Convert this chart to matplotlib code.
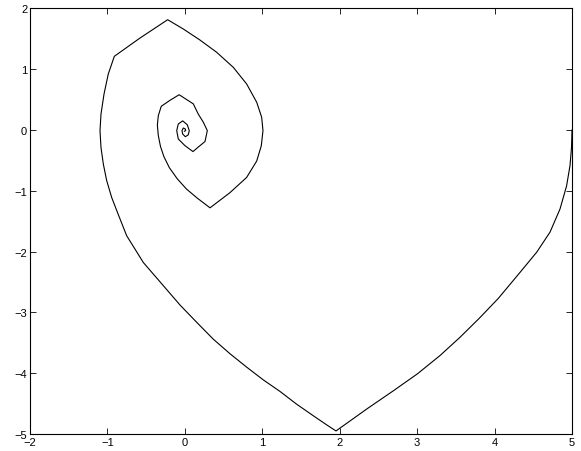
import matplotlib
matplotlib.use("Agg")
import matplotlib.pyplot as plt

plt.rcParams['font.family'] = ['Liberation Sans', 'DejaVu Sans']

# Trajectory, in drawing order (clockwise spiral)
x_vals = [5.0, 4.997, 4.993, 4.974, 4.93, 4.845, 4.716, 4.544, 4.33, 4.048, 3.80,
          3.553, 3.295, 3.004, 2.692, 2.348, 1.952,
          1.832, 1.659, 1.444, 1.229, 1.013, 0.798, 0.583, 0.367, 0.153, -0.063,
          -0.278, -0.536, -0.751, -0.86, -0.945, -1.01, -1.053, -1.083, -1.096,
          -1.083, -1.044, -0.989, -0.911,
          -0.579, -0.222,
          -0.02, 0.195, 0.411, 0.626, 0.798, 0.928, 0.992, 1.009, 0.987, 0.928,
          0.798, 0.583, 0.325,
          0.16, 0.02, -0.10, -0.20, -0.27, -0.315, -0.343, -0.355, -0.343, -0.305,
          -0.19, -0.074,
          0.109, 0.174, 0.239, 0.29, 0.26, 0.174, 0.105,
          0.002, -0.085, -0.105, -0.085, -0.028, 0.031, 0.057, 0.044, 0.006,
          -0.028, -0.037, -0.02, 0.006, 0.01, -0.005]
y_vals = [0.0, -0.15, -0.3, -0.587, -0.92, -1.30, -1.68, -2.01, -2.34, -2.77, -3.10,
          -3.41, -3.71, -4.01, -4.29, -4.59, -4.95,
          -4.85, -4.70, -4.51, -4.30, -4.11, -3.90, -3.68, -3.44, -3.163, -2.878,
          -2.56, -2.18, -1.74, -1.39, -1.11, -0.83, -0.56, -0.29, -0.01,
          0.263, 0.592, 0.921, 1.212,
          1.513, 1.814,
          1.661, 1.48, 1.278, 1.03, 0.757, 0.456, 0.209, -0.01, -0.26, -0.51,
          -0.78, -1.03, -1.28,
          -1.12, -0.97, -0.80, -0.62, -0.44, -0.27, -0.09, 0.08, 0.235, 0.39,
          0.49, 0.58,
          0.43, 0.26, 0.127, -0.01, -0.19, -0.28, -0.355,
          -0.258, -0.148, -0.01, 0.099, 0.15, 0.087, -0.01, -0.08, -0.11,
          -0.066, -0.01, 0.033, 0.016, -0.01, -0.02]

x_ticks = [-2, -1, 0, 1, 2, 3, 4, 5]
y_ticks = [-5, -4, -3, -2, -1, 0, 1, 2]

fig = plt.figure(figsize=(5.81, 4.52), dpi=100)
ax = fig.add_axes([30/581, 1-435/452, 542/581, (435-9.4)/452])
ax.plot(x_vals, y_vals, color='black', linewidth=0.8)
ax.set_xlim(-2, 5)
ax.set_ylim(-5, 2)
ax.set_xticks(x_ticks)
ax.set_yticks(y_ticks)
ax.set_xticklabels([str(t).replace('-', '\u2212') for t in x_ticks])
ax.set_yticklabels([str(t).replace('-', '\u2212') for t in y_ticks])
ax.tick_params(direction='in', length=4, width=0.6, top=True, right=True,
               labelsize=8, pad=2)
for s in ax.spines.values():
    s.set_linewidth(0.8)
fig.savefig('out.png', dpi=100)
